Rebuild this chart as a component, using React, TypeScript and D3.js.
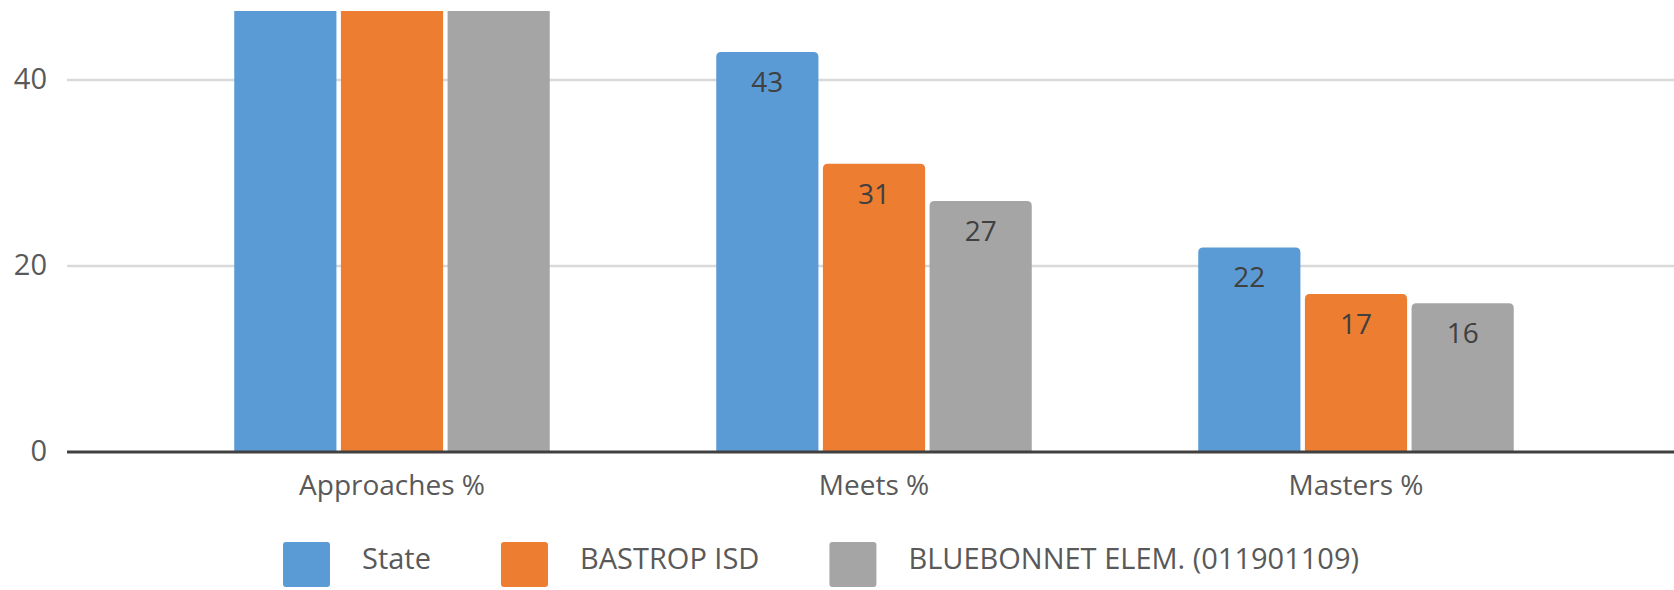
import React, { useEffect, useRef } from "react";
import * as d3 from "d3";

const categories = ["Approaches %", "Meets %", "Masters %"];
const seriesNames = ["State", "BASTROP ISD", "BLUEBONNET ELEM. (011901109)"];
const stateValues = [77, 43, 22];
const bastropValues = [70, 31, 17];
const bluebonnetValues = [66, 27, 16];
const yTicks = [0, 20, 40];
const seriesColors = ["#5B9BD5", "#ED7D31", "#A5A5A5"];

const W = 1674;
const H = 590;
const FONT = "'Open Sans', 'Noto Sans', sans-serif";

export default function App() {
  const ref = useRef<SVGSVGElement | null>(null);

  useEffect(() => {
    const svg = d3.select(ref.current);
    svg.selectAll("*").remove();

    const seriesValues = [stateValues, bastropValues, bluebonnetValues];
    const plotTop = 11;
    const plotLeft = 67;

    const y = d3.scaleLinear().domain([0, 40]).range([452, 80]);
    const x0 = d3
      .scaleBand<string>()
      .domain(categories)
      .range([151, 1597])
      .paddingInner(0.3454)
      .paddingOuter(0.1727);
    const x1 = d3
      .scaleBand<string>()
      .domain(seriesNames)
      .range([0, x0.bandwidth()])
      .paddingInner(0.042);

    const defs = svg.append("defs");
    defs
      .append("clipPath")
      .attr("id", "plotclip")
      .append("rect")
      .attr("x", 0)
      .attr("y", plotTop)
      .attr("width", W)
      .attr("height", H - plotTop);

    // gridlines
    svg
      .append("g")
      .selectAll("line")
      .data(yTicks.filter((t) => t !== 0))
      .join("line")
      .attr("x1", plotLeft)
      .attr("x2", W)
      .attr("y1", (d) => y(d))
      .attr("y2", (d) => y(d))
      .attr("stroke", "#D9D9D9")
      .attr("stroke-width", 2.5);

    // y tick labels
    svg
      .append("g")
      .selectAll("text")
      .data(yTicks)
      .join("text")
      .attr("x", 47)
      .attr("y", (d) => y(d) + 9)
      .attr("text-anchor", "end")
      .attr("font-family", FONT)
      .attr("font-size", 29)
      .attr("fill", "#595959")
      .text((d) => String(d));

    // bars
    const r = 5;
    const barPath = (x: number, w: number, top: number, bottom: number) => {
      const rr = Math.min(r, (bottom - top) / 2, w / 2);
      return `M${x},${bottom}V${top + rr}Q${x},${top} ${x + rr},${top}H${x + w - rr}Q${x + w},${top} ${x + w},${top + rr}V${bottom}Z`;
    };

    const barsG = svg.append("g").attr("clip-path", "url(#plotclip)");
    const labelsG = svg.append("g");

    categories.forEach((cat, ci) => {
      seriesNames.forEach((s, si) => {
        const v = seriesValues[si][ci];
        const bx = (x0(cat) as number) + (x1(s) as number);
        const bw = x1.bandwidth();
        barsG
          .append("path")
          .attr("d", barPath(bx, bw, y(v), y(0)))
          .attr("fill", seriesColors[si]);
        if (y(v) > plotTop) {
          labelsG
            .append("text")
            .attr("x", bx + bw / 2)
            .attr("y", y(v) + 40)
            .attr("text-anchor", "middle")
            .attr("font-family", FONT)
            .attr("font-size", 28)
            .attr("fill", "#404040")
            .text(String(v));
        }
      });
    });

    // axis line
    svg
      .append("line")
      .attr("x1", plotLeft)
      .attr("x2", W)
      .attr("y1", y(0))
      .attr("y2", y(0))
      .attr("stroke", "#404040")
      .attr("stroke-width", 3);

    // category labels
    svg
      .append("g")
      .selectAll("text")
      .data(categories)
      .join("text")
      .attr("x", (d) => (x0(d) as number) + x0.bandwidth() / 2)
      .attr("y", 495)
      .attr("text-anchor", "middle")
      .attr("font-family", FONT)
      .attr("font-size", 28)
      .attr("fill", "#595959")
      .text((d) => d);

    // legend
    const legend = svg.append("g");
    let lx = 283;
    seriesNames.forEach((s, si) => {
      legend
        .append("rect")
        .attr("x", lx)
        .attr("y", 542)
        .attr("width", 47)
        .attr("height", 45)
        .attr("rx", 3)
        .attr("fill", seriesColors[si]);
      const t = legend
        .append("text")
        .attr("x", lx + 79)
        .attr("y", 569)
        .attr("font-family", FONT)
        .attr("font-size", 29)
        .attr("fill", "#595959")
        .text(s);
      const tw = (t.node() as SVGTextElement).getComputedTextLength();
      lx = lx + 79 + tw + 70;
    });
  }, []);

  return (
    <svg
      ref={ref}
      width={W}
      height={H}
      style={{ position: "absolute", left: 0, top: 0, background: "#ffffff" }}
    />
  );
}
